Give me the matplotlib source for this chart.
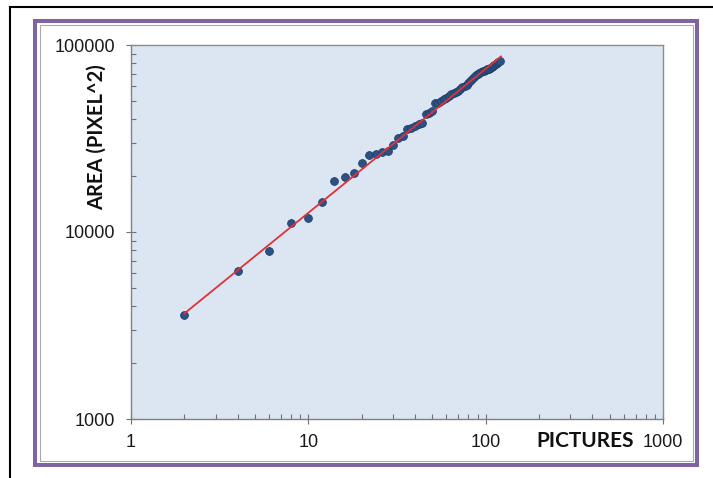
import matplotlib
matplotlib.use("Agg")
import matplotlib.pyplot as plt
from matplotlib.lines import Line2D
from matplotlib.patches import Rectangle
from matplotlib.ticker import LogLocator, FixedLocator, NullFormatter
import numpy as np

# Number of pictures vs. measured area (pixel^2)
pictures = [2, 4, 6, 8, 10, 12, 14, 16, 18, 20,
            22, 24, 26, 28, 30, 32, 34, 36, 38, 40,
            42, 44, 46, 48, 50, 52, 54, 56, 58, 60,
            62, 64, 66, 68, 70, 72, 74, 76, 78, 80,
            82, 84, 86, 88, 90, 92, 94, 96, 98, 100,
            102, 104, 106, 108, 110, 112, 114, 116, 118, 120]
area = [3590, 6170, 7890, 11150, 11860, 14430, 18820, 19650, 20770, 23350,
        25680, 26090, 26680, 27180, 29340, 31890, 32690, 35730, 35950, 36850,
        37670, 38230, 42720, 43520, 44500, 48740, 49220, 50460, 51390, 52030,
        53660, 54660, 55540, 56370, 57070, 58490, 59590, 60320, 61440, 62600,
        64160, 65770, 67420, 69530, 70380, 71260, 71870, 72400, 72850, 73490,
        74120, 74860, 75790, 76530, 77680, 78350, 79130, 79910, 81100, 82610]

# Power-law trend line  area = trend_coef * pictures ** trend_exp
trend_coef = 2150
trend_exp = 0.77
trend_range = [2, 122]

x_ticks = [1, 10, 100, 1000]
x_tick_labels = ["1", "10", "100", "1000"]
y_ticks = [1000, 10000, 100000]
y_tick_labels = ["1000", "10000", "100000"]

W, H = 713, 478
fig = plt.figure(figsize=(W / 100, H / 100), dpi=100)
fig.patch.set_facecolor("white")


def fx(px):
    return px / W


def fy(py):
    return 1 - py / H


# outer frame lines
fig.add_artist(Line2D([fx(10), fx(10)], [0, fy(7)], color="black", lw=1.5,
                      transform=fig.transFigure))
fig.add_artist(Line2D([fx(10), 1], [fy(7), fy(7)], color="black", lw=1.5,
                      transform=fig.transFigure))
# purple border with thin grey inner edge
fig.add_artist(Rectangle((fx(35), fy(465)), fx(697) - fx(35), fy(21) - fy(465),
                         fill=False, edgecolor="#8064a2", lw=2.9,
                         transform=fig.transFigure))
fig.add_artist(Rectangle((fx(39.5), fy(461)), fx(692.5) - fx(39.5), fy(25) - fy(461),
                         fill=False, edgecolor="#a9a9a9", lw=0.8,
                         transform=fig.transFigure))

ax = fig.add_axes([fx(131), fy(419), fx(663) - fx(131), fy(45) - fy(419)])
ax.set_facecolor("#dce6f2")
ax.set_xscale("log")
ax.set_yscale("log")
ax.set_xlim(1, 1000)
ax.set_ylim(1000, 100000)

tx = np.logspace(np.log10(trend_range[0]), np.log10(trend_range[1]), 50)
ax.plot(tx, trend_coef * tx ** trend_exp, color="#e0303a", lw=1.3, zorder=3)
ax.plot(pictures, area, linestyle="none", marker="o", markersize=5.6,
        markerfacecolor="#2b5283", markeredgecolor="#1f3f6a",
        markeredgewidth=0.6, zorder=2)

for side in ["top", "right"]:
    ax.spines[side].set_color("#8c8c8c")
    ax.spines[side].set_linewidth(1.0)
for side in ["left", "bottom"]:
    ax.spines[side].set_color("#808080")
    ax.spines[side].set_linewidth(1.0)

ax.xaxis.set_major_locator(FixedLocator(x_ticks))
ax.yaxis.set_major_locator(FixedLocator(y_ticks))
ax.set_xticklabels(x_tick_labels)
ax.set_yticklabels(y_tick_labels)
ax.xaxis.set_minor_locator(LogLocator(base=10, subs=np.arange(2, 10)))
ax.yaxis.set_minor_locator(LogLocator(base=10, subs=np.arange(2, 10)))
ax.xaxis.set_minor_formatter(NullFormatter())
ax.yaxis.set_minor_formatter(NullFormatter())

ax.tick_params(which="major", direction="inout", length=7, width=0.8,
               color="#707070", labelcolor="#1a1a1a", labelsize=13)
ax.tick_params(which="minor", direction="in", length=3.5, width=0.8,
               color="#707070")
ax.tick_params(axis="x", which="major", pad=7)
ax.tick_params(axis="y", which="major", pad=8)
for lab in ax.get_xticklabels() + ax.get_yticklabels():
    lab.set_fontfamily(["Liberation Sans", "DejaVu Sans"])

fig.text(fx(585), fy(441), "PICTURES", ha="center", va="center",
         fontsize=15, fontweight="bold", family=["Lato", "DejaVu Sans"],
         color="#111111")
fig.text(fx(97), fy(137), "AREA (PIXEL^2)", ha="center", va="center",
         rotation=90, fontsize=14.5, fontweight="bold",
         family=["Lato", "DejaVu Sans"], color="#111111")

fig.savefig("out.png", dpi=100)
